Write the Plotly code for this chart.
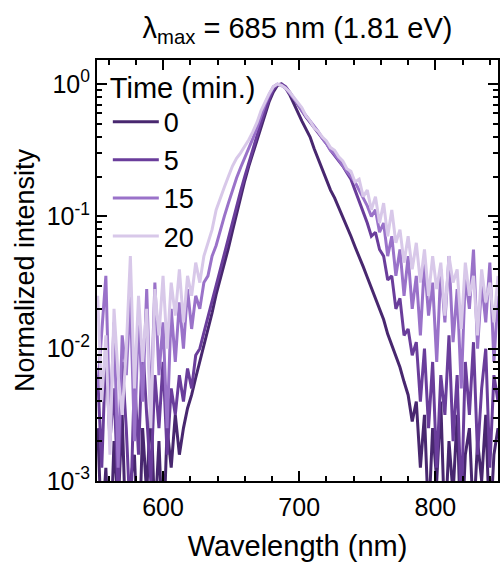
import plotly.graph_objects as go

wavelength = [552, 555, 558, 561, 564, 567, 570, 573, 576, 579,
              582, 585, 588, 591, 594, 597, 600, 603, 606, 609,
              612, 615, 618, 621, 624, 627, 630, 633, 636, 639,
              642, 645, 648, 651, 654, 657, 660, 663, 666, 669,
              672, 675, 678, 681, 684, 687, 690, 693, 696, 699,
              702, 705, 708, 711, 714, 717, 720, 723, 726, 729,
              732, 735, 738, 741, 744, 747, 750, 753, 756, 759,
              762, 765, 768, 771, 774, 777, 780, 783, 786, 789,
              792, 795, 798, 801, 804, 807, 810, 813, 816, 819,
              822, 825, 828, 831, 834, 837, 840, 843, 846]

int_0 = [0.00251, 0.000398, 0.00126, 0.000251, 0.00200, 0.000631, 0.00316, 0.000316, 0.00100, 0.00158,
         0.000251, 0.00251, 0.000794, 0.00398, 0.000501, 0.00200, 0.000316, 0.00251, 0.00126, 0.00316,
         0.00158, 0.00251, 0.00355, 0.00447, 0.00603, 0.00794, 0.0105, 0.0141, 0.0186, 0.0257,
         0.0331, 0.0437, 0.0575, 0.0776, 0.105, 0.141, 0.186, 0.240, 0.302, 0.380,
         0.479, 0.589, 0.741, 0.871, 0.977, 1.0, 0.933, 0.832, 0.708, 0.617,
         0.525, 0.457, 0.398, 0.324, 0.269, 0.224, 0.191, 0.158, 0.138, 0.117,
         0.100, 0.0851, 0.0708, 0.0589, 0.0501, 0.0417, 0.0347, 0.0288, 0.0240, 0.0200,
         0.0166, 0.0129, 0.0107, 0.00891, 0.00724, 0.00562, 0.00447, 0.00282, 0.00398, 0.00126,
         0.00316, 0.000501, 0.00251, 0.00100, 0.00398, 0.000398, 0.00200, 0.000794, 0.00316, 0.000316,
         0.00158, 0.00251, 0.000501, 0.00200, 0.00100, 0.00316, 0.000398, 0.00158, 0.00251]

int_5 = [0.00631, 0.00126, 0.0100, 0.00200, 0.00501, 0.000794, 0.00794, 0.00251, 0.000501, 0.00631,
         0.00158, 0.0112, 0.00316, 0.00100, 0.00631, 0.00251, 0.00794, 0.00158, 0.00501, 0.00316,
         0.00631, 0.00398, 0.00708, 0.00501, 0.00891, 0.0100, 0.0132, 0.0174, 0.0234, 0.0309,
         0.0398, 0.0525, 0.0676, 0.0891, 0.117, 0.155, 0.200, 0.257, 0.324, 0.407,
         0.513, 0.631, 0.776, 0.912, 0.989, 1.0, 0.955, 0.871, 0.776, 0.692,
         0.617, 0.562, 0.513, 0.468, 0.427, 0.389, 0.355, 0.316, 0.288, 0.263,
         0.240, 0.214, 0.191, 0.158, 0.132, 0.107, 0.0891, 0.0708, 0.0759, 0.0562,
         0.0501, 0.0331, 0.0355, 0.0200, 0.0240, 0.0126, 0.0141, 0.00891, 0.0112, 0.00398,
         0.0100, 0.00251, 0.00794, 0.00126, 0.00631, 0.00316, 0.0126, 0.00200, 0.00631, 0.000631,
         0.00794, 0.00316, 0.0112, 0.00158, 0.00501, 0.0100, 0.00126, 0.00631, 0.00398]

int_15 = [0.00501, 0.0126, 0.0355, 0.00251, 0.0158, 0.00126, 0.0126, 0.00631, 0.0251, 0.00200,
          0.0178, 0.00398, 0.0282, 0.00316, 0.0316, 0.00631, 0.0158, 0.00251, 0.0200, 0.00794,
          0.0224, 0.0100, 0.0282, 0.0141, 0.0251, 0.0200, 0.0316, 0.0355, 0.0501, 0.0603,
          0.0794, 0.100, 0.126, 0.158, 0.195, 0.234, 0.275, 0.324, 0.389, 0.468,
          0.575, 0.708, 0.832, 0.955, 1.0, 0.977, 0.933, 0.851, 0.776, 0.708,
          0.631, 0.575, 0.525, 0.479, 0.437, 0.389, 0.355, 0.316, 0.295, 0.269,
          0.240, 0.219, 0.200, 0.182, 0.158, 0.138, 0.120, 0.100, 0.112, 0.0759,
          0.0891, 0.0501, 0.0708, 0.0355, 0.0562, 0.0251, 0.0501, 0.0200, 0.0355, 0.0126,
          0.0447, 0.0178, 0.0316, 0.00794, 0.0398, 0.0158, 0.0501, 0.0112, 0.0282, 0.00501,
          0.0355, 0.0200, 0.0562, 0.0100, 0.0316, 0.0158, 0.0447, 0.00794, 0.0251]

int_20 = [0.0251, 0.00398, 0.0126, 0.00158, 0.0200, 0.00631, 0.00316, 0.0100, 0.0501, 0.00501,
          0.0251, 0.00794, 0.0200, 0.00251, 0.0282, 0.0126, 0.0355, 0.0100, 0.0316, 0.0178,
          0.0398, 0.0158, 0.0355, 0.0251, 0.0447, 0.0316, 0.0501, 0.0631, 0.0794, 0.112,
          0.138, 0.166, 0.200, 0.240, 0.275, 0.302, 0.339, 0.380, 0.437, 0.513,
          0.631, 0.741, 0.851, 0.955, 1.0, 0.977, 0.933, 0.871, 0.794, 0.724,
          0.661, 0.575, 0.525, 0.468, 0.437, 0.398, 0.372, 0.331, 0.316, 0.282,
          0.263, 0.229, 0.219, 0.182, 0.191, 0.141, 0.158, 0.112, 0.141, 0.0891,
          0.126, 0.0708, 0.112, 0.0631, 0.0794, 0.0447, 0.0708, 0.0398, 0.0631, 0.0316,
          0.0562, 0.0251, 0.0501, 0.0282, 0.0447, 0.0178, 0.0501, 0.0316, 0.0398, 0.0141,
          0.0447, 0.0251, 0.0355, 0.0126, 0.0398, 0.0224, 0.0316, 0.0158, 0.0355]

series_names = ["0", "5", "15", "20"]
series_values = [int_0, int_5, int_15, int_20]
series_colors = ["#48276f", "#6a3d9b", "#9a72c9", "#d8c8e9"]

y_tickvals = [1, 0.1, 0.01, 0.001]
y_ticktext = ["10<sup>0</sup>", "10<sup>-1</sup>", "10<sup>-2</sup>", "10<sup>-3</sup>"]
x_tickvals = [600, 700, 800]

FONT = "Liberation Sans, Arial, sans-serif"

fig = go.Figure()
for i, (nm, vals, col) in enumerate(zip(series_names, series_values, series_colors)):
    fig.add_trace(go.Scatter(
        x=wavelength, y=vals, mode="lines", name=nm,
        legendgroup=f"g{i}",
        line=dict(color=col, width=3),
    ))

fig.update_layout(
    width=501, height=563,
    margin=dict(l=97, r=1, t=60, b=82),
    paper_bgcolor="white", plot_bgcolor="white",
    font=dict(family=FONT, color="black"),
    title=dict(
        text="λ<sub>max</sub> = 685 nm (1.81 eV)",
        x=0.5, xref="paper", xanchor="center",
        y=1 - 28 / 563, yref="container", yanchor="middle",
        font=dict(size=29, family=FONT, color="black"),
    ),
    legend=dict(
        x=0.027, y=1.0, xanchor="left", yanchor="top",
        bgcolor="rgba(0,0,0,0)",
        font=dict(size=27, family=FONT, color="black"),
        title=dict(text="Time (min.)", font=dict(size=29, family=FONT, color="black")),
        itemwidth=46,
        tracegroupgap=0,
    ),
    showlegend=True,
)

fig.update_xaxes(
    range=[551.5, 846],
    tickmode="array", tickvals=x_tickvals,
    ticks="inside", ticklen=10, tickwidth=2, tickcolor="black",
    showline=True, linewidth=2, linecolor="black", mirror="allticks",
    showgrid=False, zeroline=False,
    tickfont=dict(size=25, family=FONT, color="black"),
    ticklabelstandoff=3,
    minor=dict(ticks="inside", ticklen=5, tickwidth=2, tickcolor="black", tick0=0, dtick=20, showgrid=False),
    title=dict(text="Wavelength (nm)", font=dict(size=29, family=FONT, color="black"), standoff=16),
)

fig.update_yaxes(
    type="log", range=[-3, 0.182],
    tickmode="array", tickvals=y_tickvals, ticktext=y_ticktext,
    ticks="inside", ticklen=10, tickwidth=2, tickcolor="black",
    showline=True, linewidth=2, linecolor="black", mirror="ticks",
    showgrid=False, zeroline=False,
    tickfont=dict(size=25, family=FONT, color="black"),
    minor=dict(ticks="inside", ticklen=5, tickwidth=2, tickcolor="black", dtick="D1", showgrid=False),
    title=dict(text="Normalized intensity", font=dict(size=27, family=FONT, color="black"), standoff=4),
)

fig.write_html("out.html")
